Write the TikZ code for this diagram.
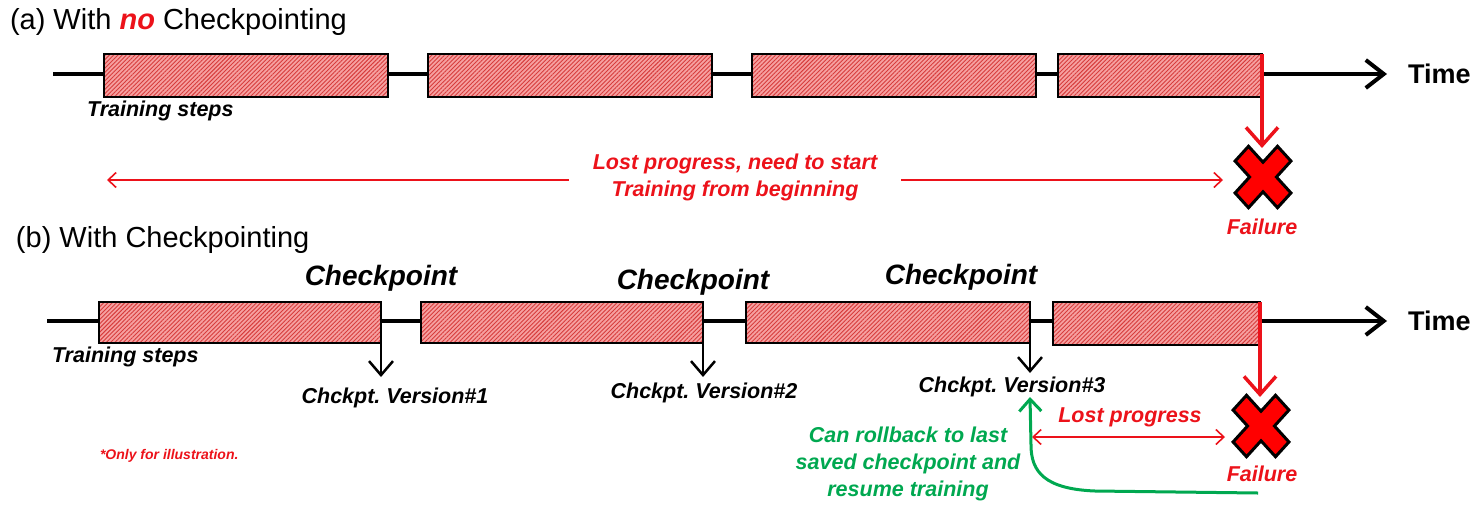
\documentclass[tikz,border=0pt]{standalone}
\usepackage{fontspec}
\setmainfont{Liberation Sans}
\usetikzlibrary{arrows.meta,patterns.meta}

\definecolor{failred}{RGB}{236,18,26}
\definecolor{okgreen}{RGB}{0,168,80}
\definecolor{boxfill}{RGB}{246,160,160}
\definecolor{hatch}{RGB}{214,60,60}

\newcommand\titlesize{\fontsize{29}{34}\selectfont}
\newcommand\timesize{\fontsize{27}{32}\selectfont\bfseries}
\newcommand\ckptsize{\fontsize{28}{33}\selectfont\bfseries\itshape}
\newcommand\labsize{\fontsize{21.5}{27}\selectfont\bfseries\itshape}
\newcommand\notesize{\fontsize{14}{17}\selectfont\bfseries\itshape}

\tikzset{
  every node/.style={inner sep=0pt, outer sep=0pt},
  stepbox/.style={draw=black, line width=2pt, preaction={fill=boxfill},
    pattern={Lines[angle=45,distance=3pt,line width=0.9pt]}, pattern color=hatch},
  timeline/.style={line width=4pt,
    -{Straight Barb[length=18pt,width=28pt,line width=4pt]}},
  failline/.style={failred, line width=3.5pt,
    -{Straight Barb[length=18pt,width=32pt,line width=3.5pt]}},
  ckptline/.style={black, line width=2.5pt,
    -{Straight Barb[length=14pt,width=24pt,line width=2.5pt]}},
  lostline/.style={failred, line width=1.6pt,
    -{Straight Barb[length=8pt,width=15pt,line width=1.6pt]}},
  lostboth/.style={failred, line width=1.6pt,
    {Straight Barb[length=8pt,width=15pt,line width=1.6pt]}-{Straight Barb[length=8pt,width=15pt,line width=1.6pt]}},
  backline/.style={okgreen, line width=3pt,
    -{Straight Barb[length=12pt,width=22pt,line width=3pt]}},
  xcross/.style={draw=black, fill=red, line width=3pt, line join=miter},
  xholder/.style={minimum width=56pt, minimum height=62pt},
  redlab/.style={text=failred, font=\labsize},
  blacklab/.style={font=\labsize},
  ckptlab/.style={font=\ckptsize},
  timelab/.style={font=\timesize, anchor=west},
  notelab/.style={text=failred, font=\notesize, anchor=west},
}

% the red "X" failure mark, centred on a holder node
\newcommand\failcross[1]{%
  \draw[xcross, shift={(#1.center)}, yscale=1.1, rotate=45]
    (-9.5,30) -- (9.5,30) -- (9.5,9.5) -- (30,9.5) -- (30,-9.5) -- (9.5,-9.5)
    -- (9.5,-30) -- (-9.5,-30) -- (-9.5,-9.5) -- (-30,-9.5) -- (-30,9.5)
    -- (-9.5,9.5) -- cycle;}

\begin{document}
\frenchspacing
\begin{tikzpicture}[x=1pt,y=-1pt]
\useasboundingbox (0,0) rectangle (1474,504);

% ---------------- (a) without checkpointing ----------------
\node[anchor=west, font=\titlesize] (ta) at (10,22)
  {(a) With \textcolor{failred}{\bfseries\itshape no} Checkpointing};

\coordinate (a0) at (53,74);
\coordinate (a1) at (1387,74);
\draw[timeline] (a0) -- (a1);
\node[timelab] (timeA) at (1408,74) {Time};

\node[stepbox, minimum width=284pt, minimum height=43pt] (as1) at (246,75) {};
\node[stepbox, minimum width=284pt, minimum height=43pt] (as2) at (570,75.5) {};
\node[stepbox, minimum width=284pt, minimum height=43pt] (as3) at (894,75.5) {};
\node[stepbox, minimum width=204pt, minimum height=43pt] (as4) at (1160,75.5) {};

\node[blacklab, anchor=west] (tsa) at (87,111) {Training steps};

\node[xholder] (xa) at (1263,177) {};
\failcross{xa}
\draw[failline] (as4.north east) -- ([yshift=-2]xa.north -| as4.east);
\node[redlab] (fa) at (1262,227) {Failure};

\node[redlab, align=center, inner xsep=24pt] (lostA) at (735,177)
  {Lost progress, need to start\\Training from beginning};
\coordinate (la) at (107,180);
\coordinate (ra) at (1223,180);
\draw[lostline] (lostA.west |- la) -- (la);
\draw[lostline] (lostA.east |- ra) -- (ra);

% ---------------- (b) with checkpointing ----------------
\node[anchor=west, font=\titlesize] (tb) at (16,240) {(b) With Checkpointing};

\coordinate (b0) at (47,321);
\coordinate (b1) at (1387,321);
\draw[timeline] (b0) -- (b1);
\node[timelab] (timeB) at (1408,321) {Time};

\node[stepbox, minimum width=282pt, minimum height=41pt] (bs1) at (240,322.5) {};
\node[stepbox, minimum width=282pt, minimum height=41pt] (bs2) at (562,322.5) {};
\node[stepbox, minimum width=284pt, minimum height=41pt] (bs3) at (888,322.5) {};
\node[stepbox, minimum width=207pt, minimum height=43pt] (bs4) at (1156.5,323.5) {};

\node[blacklab, anchor=west] (tsb) at (52,357) {Training steps};

\node[ckptlab] (c1) at (381,278) {Checkpoint};
\node[ckptlab] (c2) at (693,282) {Checkpoint};
\node[ckptlab] (c3) at (961,277) {Checkpoint};

\node[blacklab] (v1) at (395,398) {Chckpt. Version\#1};
\node[blacklab] (v2) at (704,393) {Chckpt. Version\#2};
\node[blacklab] (v3) at (1012,387) {Chckpt. Version\#3};

\coordinate (k1) at (0,377);
\coordinate (k2) at (0,377);
\coordinate (k3) at (0,373);
\draw[ckptline] (bs1.north east) -- (bs1.north east |- k1);
\draw[ckptline] (bs2.north east) -- (bs2.north east |- k2);
\draw[ckptline] (bs3.north east) -- (bs3.north east |- k3);

\node[xholder] (xb) at (1261,426) {};
\failcross{xb}
\draw[failline] (bs4.north east) -- ([yshift=-2]xb.north -| bs4.east);
\node[redlab] (fb) at (1262,474) {Failure};

\node[redlab] (lostB) at (1130,417) {Lost progress};
\coordinate (lb1) at (1032,437);
\coordinate (lb2) at (1225,437);
\draw[lostboth] (lb1) -- (lb2);

\node[font=\labsize, text=okgreen, align=center] (rb) at (908,464)
  {Can rollback to last\\saved checkpoint and\\resume training};
\coordinate (gs) at (1258,493);
\coordinate (gt) at (1030,397);
\draw[backline] (gs) -- (1095,491)
  .. controls (1045,489) and (1031,472) .. (1031,445) -- (gt);

\node[notelab] (note) at (100,456) {*Only for illustration.};
\end{tikzpicture}
\end{document}
